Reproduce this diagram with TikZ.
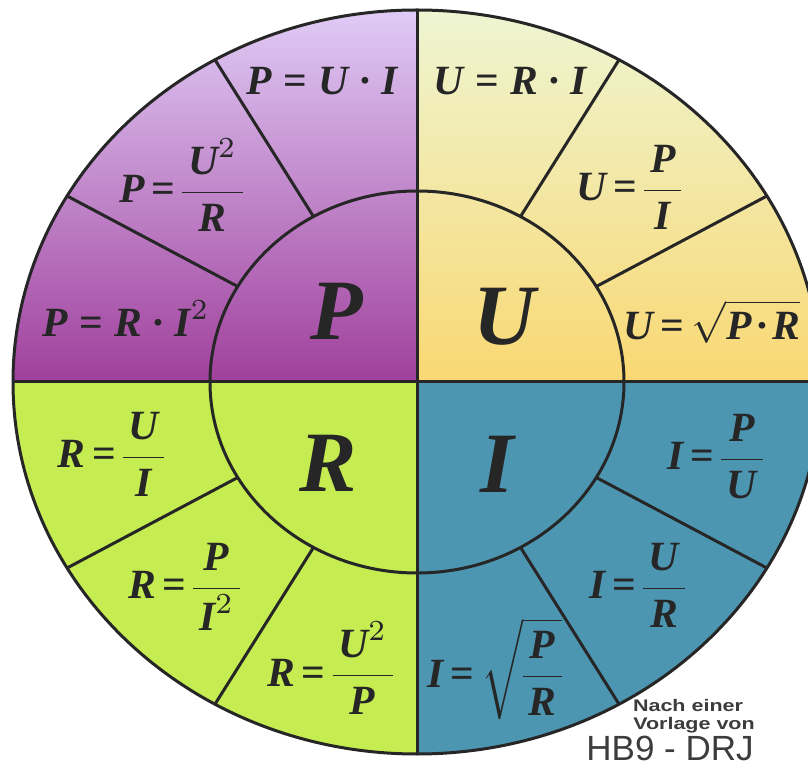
\documentclass[tikz,border=0pt]{standalone}
\usepackage{fontspec}
\usepackage{amsmath}
\newfontfamily\formfont{Liberation Serif}
\newfontfamily\sigfont{Liberation Sans}
\newcommand\vv[1]{\mbox{\formfont\bfseries\itshape #1}}
\newcommand\eqs{\mathrel{\mbox{\formfont\bfseries =}}}
\newcommand\dotop{\mathbin{\mbox{\formfont\bfseries ·}}}
\newcommand\fr[2]{\frac{\mkern2.5mu#1\mkern2.5mu}{\mkern2.5mu#2\mkern2.5mu}}
\newcommand\fm[1]{\scalebox{2.08}{$\displaystyle #1$}}
\newcommand\fmf[1]{\scalebox{2.08}{$\thickmuskip=3mu\nulldelimiterspace=0pt\displaystyle #1$}}
\newcommand\fmt[1]{\scalebox{2.08}{$\thickmuskip=3mu\medmuskip=1.5mu\displaystyle #1$}}
\definecolor{ptop}{HTML}{E0CBF6}
\definecolor{pmid}{HTML}{B466C4}
\definecolor{pbot}{HTML}{A0409C}
\definecolor{utop}{HTML}{EEF5D2}
\definecolor{umid}{HTML}{F5EA9E}
\definecolor{ubot}{HTML}{F9D873}
\definecolor{rfill}{HTML}{C5ED52}
\definecolor{ifill}{HTML}{4D96B2}
\definecolor{linec}{HTML}{262626}
\definecolor{sigc}{HTML}{3C3C3C}
\begin{document}
\begin{tikzpicture}[x=0.5pt,y=0.5pt,
  sep/.style={draw=linec,line width=1.5pt},
  form/.style={inner sep=0pt,anchor=base,text=linec},
  big/.style={inner sep=0pt,anchor=base,text=linec,font=\fontsize{43}{50}\selectfont\formfont\bfseries\itshape},
  sig/.style={inner sep=0pt,anchor=base,text=sigc}]
\useasboundingbox (0,0) rectangle (808,766);
\clip (0,0) rectangle (808,766);
\coordinate (C) at (417,384);
\begin{scope}[shift={(417,384)}]
  % quadrant fills
  \shade[top color=ptop,middle color=pmid,bottom color=pbot] (0,0) -- (90:404 and 372) arc[start angle=90,end angle=180,x radius=404,y radius=372] -- cycle;
  \shade[top color=utop,middle color=umid,bottom color=ubot] (0,0) -- (0:404 and 372) arc[start angle=0,end angle=90,x radius=404,y radius=372] -- cycle;
  \fill[rfill] (0,0) -- (180:404 and 372) arc[start angle=180,end angle=270,x radius=404,y radius=372] -- cycle;
  \fill[ifill] (0,0) -- (270:404 and 372) arc[start angle=270,end angle=360,x radius=404,y radius=372] -- cycle;
  % spokes
  \foreach \a in {30,60,120,150,210,240,300,330}
    \draw[sep] (\a:207 and 191) -- (\a:404 and 372);
  % axes
  \draw[sep] (90:404 and 372) -- (270:404 and 372);
  \draw[sep] (180:404 and 372) -- (0:404 and 372);
  % circles
  \draw[sep] (0,0) ellipse [x radius=207, y radius=191];
  \draw[sep] (0,0) ellipse [x radius=404, y radius=372];
\end{scope}
% big letters
\node[big] (bP) at (337,426) {P};
\node[big] (bU) at (505,421) {U};
\node[big] (bR) at (328,274) {R};
\node[big] (bI) at (497,273) {I};
% formulas
\node[form] (f1) at (322,671) {\fm{\vv{P}\eqs\vv{U}\dotop\vv{I}}};
\node[form] (f2) at (181,563) {\fmf{\vv{P}\eqs\fr{\vv{U}^2}{\vv{R}}}};
\node[form] (f3) at (126,429) {\fm{\vv{P}\eqs\vv{R}\dotop\vv{I}^2}};
\node[form] (f4) at (510,671) {\fm{\vv{U}\eqs\vv{R}\dotop\vv{I}}};
\node[form] (f5) at (629,565) {\fmf{\vv{U}\eqs\fr{\vv{P}}{\vv{I}}}};
\node[form] (f6) at (712,426) {\fmt{\vv{U}\eqs\sqrt{\vv{P}\dotop\vv{R}}}};
\node[form] (f7) at (111,298) {\fmf{\vv{R}\eqs\fr{\vv{U}}{\vv{I}}}};
\node[form] (f8) at (184,167) {\fmf{\vv{R}\eqs\fr{\vv{P}}{\vv{I}^2}}};
\node[form] (f9) at (330,80) {\fmf{\vv{R}\eqs\fr{\vv{U}^2}{\vv{P}}}};
\node[form] (f10) at (495,79) {\fmf{\vv{I}\eqs\sqrt{\fr{\vv{P}}{\vv{R}}}}};
\node[form] (f11) at (637,167) {\fmf{\vv{I}\eqs\fr{\vv{U}}{\vv{R}}}};
\node[form] (f12) at (715,296) {\fmf{\vv{I}\eqs\fr{\vv{P}}{\vv{U}}}};
% signature
\node[sig,font=\sigfont\bfseries\fontsize{8.4}{10}\selectfont] (s1) at (688,54.5) {\scalebox{1.28}[1]{Nach einer}};
\node[sig,font=\sigfont\bfseries\fontsize{8.4}{10}\selectfont] (s2) at (694,37) {\scalebox{1.28}[1]{Vorlage von}};
\node[sig,font=\sigfont\fontsize{17.5}{20}\selectfont] (s3) at (670,6) {HB9 - DRJ};
\end{tikzpicture}
\end{document}
